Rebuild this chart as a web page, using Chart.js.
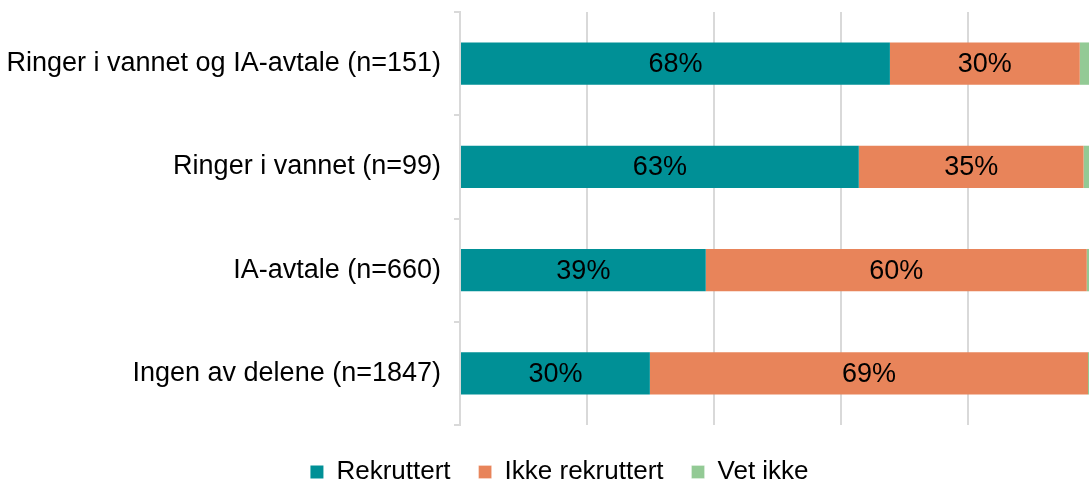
<!DOCTYPE html>
<html>
<head>
<meta charset="utf-8">
<script src="https://cdn.jsdelivr.net/npm/chart.js@4/dist/chart.umd.min.js"></script>
<style>
  html, body { margin: 0; padding: 0; background: #fff; overflow: hidden; }
  #wrap { width: 1096px; height: 495px; position: relative; }
</style>
</head>
<body>
<div id="wrap"><canvas id="chart"></canvas></div>
<script>
const categories = [
  'Ringer i vannet og IA-avtale (n=151)',
  'Ringer i vannet (n=99)',
  'IA-avtale (n=660)',
  'Ingen av delene (n=1847)'
];
const seriesNames = ['Rekruttert', 'Ikke rekruttert', 'Vet ikke'];
const rekruttert = [67.7, 62.8, 38.7, 29.9];
const ikkeRekruttert = [29.9, 35.4, 60.0, 69.0];
const vetIkke = [2.4, 1.8, 1.3, 1.1];
const colors = ['#009096', '#E8845A', '#93CA95'];

Chart.defaults.font.family = '"Liberation Sans", Arial, Helvetica, sans-serif';
Chart.defaults.color = '#000';

// draws value labels in the middle of the bigger segments
const barLabels = {
  id: 'barLabels',
  afterLayout(chart) {
    // legend sits a bit right of centre in the original
    chart.legend.left += 12;
    chart.legend.right += 12;
  },
  afterDatasetsDraw(chart) {
    const ctx = chart.ctx;
    ctx.save();
    ctx.font = '27px "Liberation Sans", Arial, sans-serif';
    ctx.fillStyle = '#000';
    ctx.textAlign = 'center';
    ctx.textBaseline = 'middle';
    chart.data.datasets.forEach((ds, i) => {
      if (i === 2) return;
      chart.getDatasetMeta(i).data.forEach((bar, j) => {
        const x = (bar.x + bar.base) / 2;
        ctx.fillText(Math.round(ds.data[j]) + '%', x, bar.y + 1);
      });
    });
    ctx.restore();
  }
};

const ctx = document.getElementById('chart').getContext('2d');
new Chart(ctx, {
  type: 'bar',
  data: {
    labels: categories,
    datasets: [rekruttert, ikkeRekruttert, vetIkke].map((d, i) => ({
      label: seriesNames[i],
      data: d,
      backgroundColor: colors[i],
      borderColor: '#fff',
      borderWidth: {left: i ? 1 : 0},
      categoryPercentage: 0.41,
      barPercentage: 1
    }))
  },
  options: {
    indexAxis: 'y',
    responsive: true,
    maintainAspectRatio: false,
    animation: false,
    layout: {padding: {top: 12, left: 0, right: 1, bottom: 0}},
    plugins: {
      tooltip: {enabled: false},
      legend: {
        position: 'bottom',
        labels: {
          boxWidth: 13, boxHeight: 13, padding: 28,
          font: {size: 26}
        }
      }
    },
    scales: {
      x: {
        stacked: true, min: 0, max: 100,
        afterFit: s => { s.height = 6; },
        ticks: {display: false, stepSize: 20},
        grid: {color: '#d9d9d9', lineWidth: 2, drawTicks: false},
        border: {display: false}
      },
      y: {
        stacked: true,
        afterFit: s => { s.width = 460; s.paddingTop = 0; s.paddingBottom = 0; },
        ticks: {font: {size: 27}, padding: 13},
        grid: {offset: true, drawOnChartArea: false, tickLength: 6, color: '#d9d9d9', lineWidth: 2},
        border: {color: '#d9d9d9', width: 2}
      }
    }
  },
  plugins: [barLabels]
});
</script>
</body>
</html>
